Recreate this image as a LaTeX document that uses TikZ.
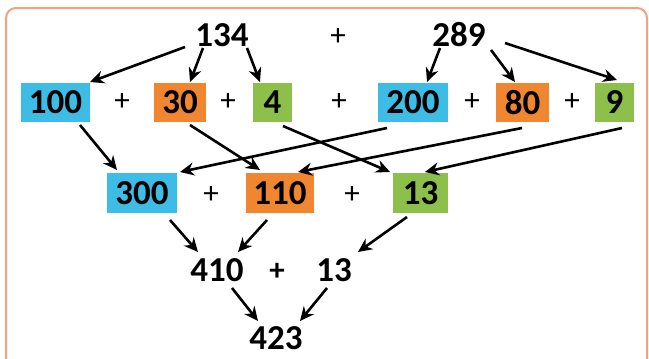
\documentclass[tikz,border=0pt]{standalone}
\usepackage{fontspec}
\setmainfont{Carlito}
\usetikzlibrary{arrows.meta}
\definecolor{cblue}{HTML}{3DBDE5}
\definecolor{corange}{HTML}{F0862F}
\definecolor{cgreen}{HTML}{8CC04A}
\definecolor{cborder}{HTML}{F4A07E}
\begin{document}
\begin{tikzpicture}[x=1pt,y=-1pt,
  box/.style={minimum height=39pt, inner sep=0pt, font=\fontsize{35}{38}\selectfont\bfseries},
  num/.style={inner sep=0pt, font=\fontsize{35}{38}\selectfont\bfseries},
  pl/.style={inner sep=0pt, font=\fontsize{31}{36}\selectfont},
  plb/.style={inner sep=0pt, font=\fontsize{31}{36}\selectfont\bfseries},
  arr/.style={line width=2.6pt, -{Stealth[length=14pt,width=13pt]}},
  frame/.style={draw=cborder, line width=2pt, rounded corners=10pt}]
\useasboundingbox (0,0) rectangle (649,359);
\clip (0,0) rectangle (649,359);
\draw[frame] (6,8) rectangle (647,385);
% top row
\node[num] (n134) at (222,35) {134};
\node[pl] (p0) at (338,37) {+};
\node[num] (n289) at (459,35) {289};
% second row
\node[box,fill=cblue,minimum width=69pt] (n100) at (55.5,102.5) {100};
\node[pl] (p1) at (122,102) {+};
\node[box,fill=corange,minimum width=52pt] (n30) at (180,102.5) {30};
\node[pl] (p2) at (228,102) {+};
\node[box,fill=cgreen,minimum width=39pt] (n4) at (272.5,102.5) {4};
\node[pl] (p3) at (339,102) {+};
\node[box,fill=cblue,minimum width=70pt] (n200) at (413,102.5) {200};
\node[pl] (p4) at (472,102) {+};
\node[box,fill=corange,minimum width=53pt] (n80) at (522.5,102.5) {80};
\node[pl] (p5) at (572,102) {+};
\node[box,fill=cgreen,minimum width=39pt] (n9) at (614.5,102.5) {9};
% third row
\node[box,fill=cblue,minimum width=70pt,minimum height=40pt] (n300) at (142,193) {300};
\node[pl] (p6) at (211,195) {+};
\node[box,fill=corange,minimum width=68pt,minimum height=40pt] (n110) at (280,193) {110};
\node[pl] (p7) at (352,195) {+};
\node[box,fill=cgreen,minimum width=55pt,minimum height=40pt] (n13a) at (420.5,193) {13};
% fourth row
\node[num] (n410) at (217,270) {410};
\node[plb] (p8) at (277,272) {+};
\node[num] (n13b) at (334,270) {13};
% result
\node[num] (n423) at (276,338) {423};
% arrows
\draw[arr] ([shift={(-37,12)}]n134.center) -- ([shift={(34.5,-20.5)}]n100.center);
\draw[arr] ([shift={(-19,13)}]n134.center) -- ([shift={(10,-20.5)}]n30.center);
\draw[arr] ([shift={(25,13)}]n134.center) -- ([shift={(-12.5,-20.5)}]n4.center);
\draw[arr] ([shift={(-19,13)}]n289.center) -- ([shift={(14,-20.5)}]n200.center);
\draw[arr] ([shift={(32,15)}]n289.center) -- ([shift={(-7.5,-20.5)}]n80.center);
\draw[arr] ([shift={(46,8)}]n289.center) -- ([shift={(2.5,-22.5)}]n9.center);
\draw[arr] ([shift={(24.5,22.5)}]n100.center) -- ([shift={(-25,-23)}]n300.center);
\draw[arr] ([shift={(10,22.5)}]n30.center) -- ([shift={(-20,-23)}]n110.center);
\draw[arr] ([shift={(10.5,23.5)}]n4.center) -- ([shift={(-30.5,-21)}]n13a.center);
\draw[arr] ([shift={(-26,25.5)}]n200.center) -- ([shift={(38,-21)}]n300.center);
\draw[arr] ([shift={(-0.5,25.5)}]n80.center) -- ([shift={(18,-21)}]n110.center);
\draw[arr] ([shift={(7.5,25.5)}]n9.center) -- ([shift={(4.5,-21)}]n13a.center);
\draw[arr] ([shift={(28,27)}]n300.center) -- ([shift={(-19,-18)}]n410.center);
\draw[arr] ([shift={(-13,27)}]n110.center) -- ([shift={(21,-18)}]n410.center);
\draw[arr] ([shift={(-13.5,24)}]n13a.center) -- ([shift={(24,-18)}]n13b.center);
\draw[arr] ([shift={(15,18)}]n410.center) -- ([shift={(-18,-17)}]n423.center);
\draw[arr] ([shift={(-7,18)}]n13b.center) -- ([shift={(24,-17)}]n423.center);
\end{tikzpicture}
\end{document}
